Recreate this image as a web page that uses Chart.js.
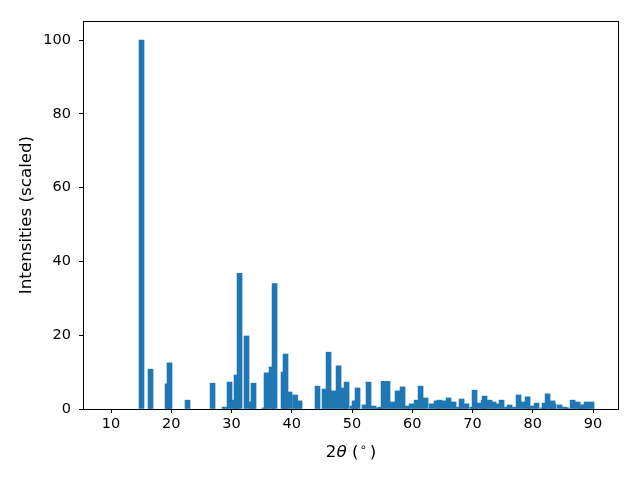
<!DOCTYPE html>
<html>
<head>
<meta charset="utf-8">
<script src="https://cdn.jsdelivr.net/npm/chart.js@4/dist/chart.umd.min.js"></script>
<style>
  body { margin: 0; background: #fff; }
  #wrap { width: 640px; height: 480px; }
</style>
</head>
<body>
<div id="wrap"><canvas id="xrdChart" width="640" height="480"></canvas></div>
<script>
// peak positions (2 theta, degrees) and scaled intensities
const twoTheta = [
  15.06, 16.56, 19.38, 19.71, 22.70, 26.85, 28.84, 29.67, 30.50, 30.83,
  31.33, 32.49, 33.32, 33.65, 35.48, 35.81, 36.64, 37.14, 38.63, 38.96,
  39.63, 40.54, 41.29, 44.27, 45.44, 46.10, 46.93, 47.76, 48.59, 49.09,
  50.08, 50.41, 50.91, 52.07, 52.74, 53.57, 54.40, 54.73, 55.23, 55.89,
  56.72, 57.55, 58.38, 59.05, 59.88, 60.71, 61.37, 62.20, 63.20, 64.02,
  64.52, 65.19, 66.02, 66.85, 67.68, 68.17, 69.00, 70.00, 70.33, 71.00,
  71.83, 71.99, 72.82, 73.49, 74.15, 74.81, 75.64, 76.14, 76.97, 77.63,
  78.46, 79.13, 79.79, 80.62, 81.62, 81.95, 82.45, 83.28, 83.44, 84.44,
  85.27, 85.60, 86.60, 87.43, 87.93, 88.42, 88.92, 89.75
];
const intensities = [
  100, 10.8, 6.8, 12.5, 2.4, 7.0, 0.5, 7.3, 2.4, 9.2,
  36.8, 19.8, 1.9, 7.0, 0.3, 9.8, 11.4, 34.0, 10.0, 14.9,
  4.6, 3.8, 2.2, 6.2, 5.4, 15.4, 4.9, 11.7, 5.7, 7.3,
  0.8, 2.2, 5.7, 1.1, 7.3, 0.8, 0.3, 0.5, 7.5, 7.5,
  1.9, 4.9, 6.0, 0.8, 1.4, 2.4, 6.2, 3.0, 1.4, 2.2,
  2.4, 2.2, 3.0, 1.9, 0.5, 2.7, 1.4, 0.5, 5.1, 1.6,
  2.4, 3.5, 2.4, 1.9, 1.4, 2.4, 0.5, 1.1, 0.5, 3.8,
  1.9, 3.3, 0.8, 1.6, 0.3, 1.6, 4.1, 2.2, 1.4, 1.1,
  0.5, 0.3, 2.4, 1.9, 1.1, 1.1, 1.9, 1.9
];
const xTicks = [10, 20, 30, 40, 50, 60, 70, 80, 90];
const yTicks = [0, 20, 40, 60, 80, 100];

const FONT = "DejaVu Sans";

// black frame around the plot area, like matplotlib spines
const framePlugin = {
  id: "frame",
  afterDatasetsDraw(chart) {
    const a = chart.chartArea;
    const ctx = chart.ctx;
    ctx.save();
    ctx.strokeStyle = "#000";
    ctx.lineWidth = 1;
    ctx.strokeRect(a.left + 0.5, a.top + 0.5, a.right - a.left - 1, a.bottom - a.top);
    ctx.restore();
  }
};

// x axis label with italic theta and superscript degree circle
const xLabelPlugin = {
  id: "xlabel",
  afterDraw(chart) {
    const ctx = chart.ctx;
    const a = chart.chartArea;
    const parts = [
      { t: "2", f: "16.7px '" + FONT + "'", dy: 0, gap: 0 },
      { t: "\u03b8", f: "italic 16.7px '" + FONT + "'", dy: 0, gap: 0 },
      { t: " (", f: "16.7px '" + FONT + "'", dy: 0, gap: 1 },
      { t: "\u2218", f: "11.5px '" + FONT + "'", dy: -6, gap: 3 },
      { t: ")", f: "16.7px '" + FONT + "'", dy: 0, gap: 0 }
    ];
    ctx.save();
    ctx.fillStyle = "#000";
    ctx.textBaseline = "alphabetic";
    let total = 0;
    parts.forEach(p => { ctx.font = p.f; p.w = ctx.measureText(p.t).width; total += p.w + p.gap; });
    let x = (a.left + a.right) / 2 - total / 2;
    const y = 457;
    parts.forEach(p => {
      ctx.font = p.f;
      ctx.fillText(p.t, x, y + p.dy);
      x += p.w + p.gap;
    });
    ctx.restore();
  }
};

new Chart(document.getElementById("xrdChart"), {
  type: "bar",
  data: {
    datasets: [{
      data: twoTheta.map((x, i) => ({ x: x, y: intensities[i] })),
      backgroundColor: "#1f77b4",
      borderWidth: 0,
      barThickness: 5
    }]
  },
  options: {
    responsive: false,
    animation: false,
    layout: { padding: { top: 21, right: 21, left: 0, bottom: 0 } },
    plugins: { legend: { display: false }, tooltip: { enabled: false } },
    scales: {
      x: {
        type: "linear",
        offset: false,
        min: 5.35,
        max: 94.3,
        afterBuildTicks: s => { s.ticks = xTicks.map(v => ({ value: v })); },
        afterFit: s => { s.height = 71; },
        grid: { display: true, offset: false, drawOnChartArea: false, drawTicks: true, tickLength: 4, color: "#000" },
        border: { display: false },
        ticks: { color: "#000", font: { family: FONT, size: 14.5 }, padding: 3, maxRotation: 0 }
      },
      y: {
        min: 0,
        max: 105.15,
        afterBuildTicks: s => { s.ticks = yTicks.map(v => ({ value: v })); },
        afterFit: s => { s.width = 83; },
        grid: { display: true, drawOnChartArea: false, drawTicks: true, tickLength: 4, color: "#000" },
        border: { display: false },
        ticks: { color: "#000", font: { family: FONT, size: 14.5 }, padding: 8 },
        title: { display: true, text: "Intensities (scaled)", color: "#000", font: { family: FONT, size: 16.7 }, padding: { top: 17, bottom: 0 } }
      }
    }
  },
  plugins: [framePlugin, xLabelPlugin]
});
</script>
</body>
</html>
